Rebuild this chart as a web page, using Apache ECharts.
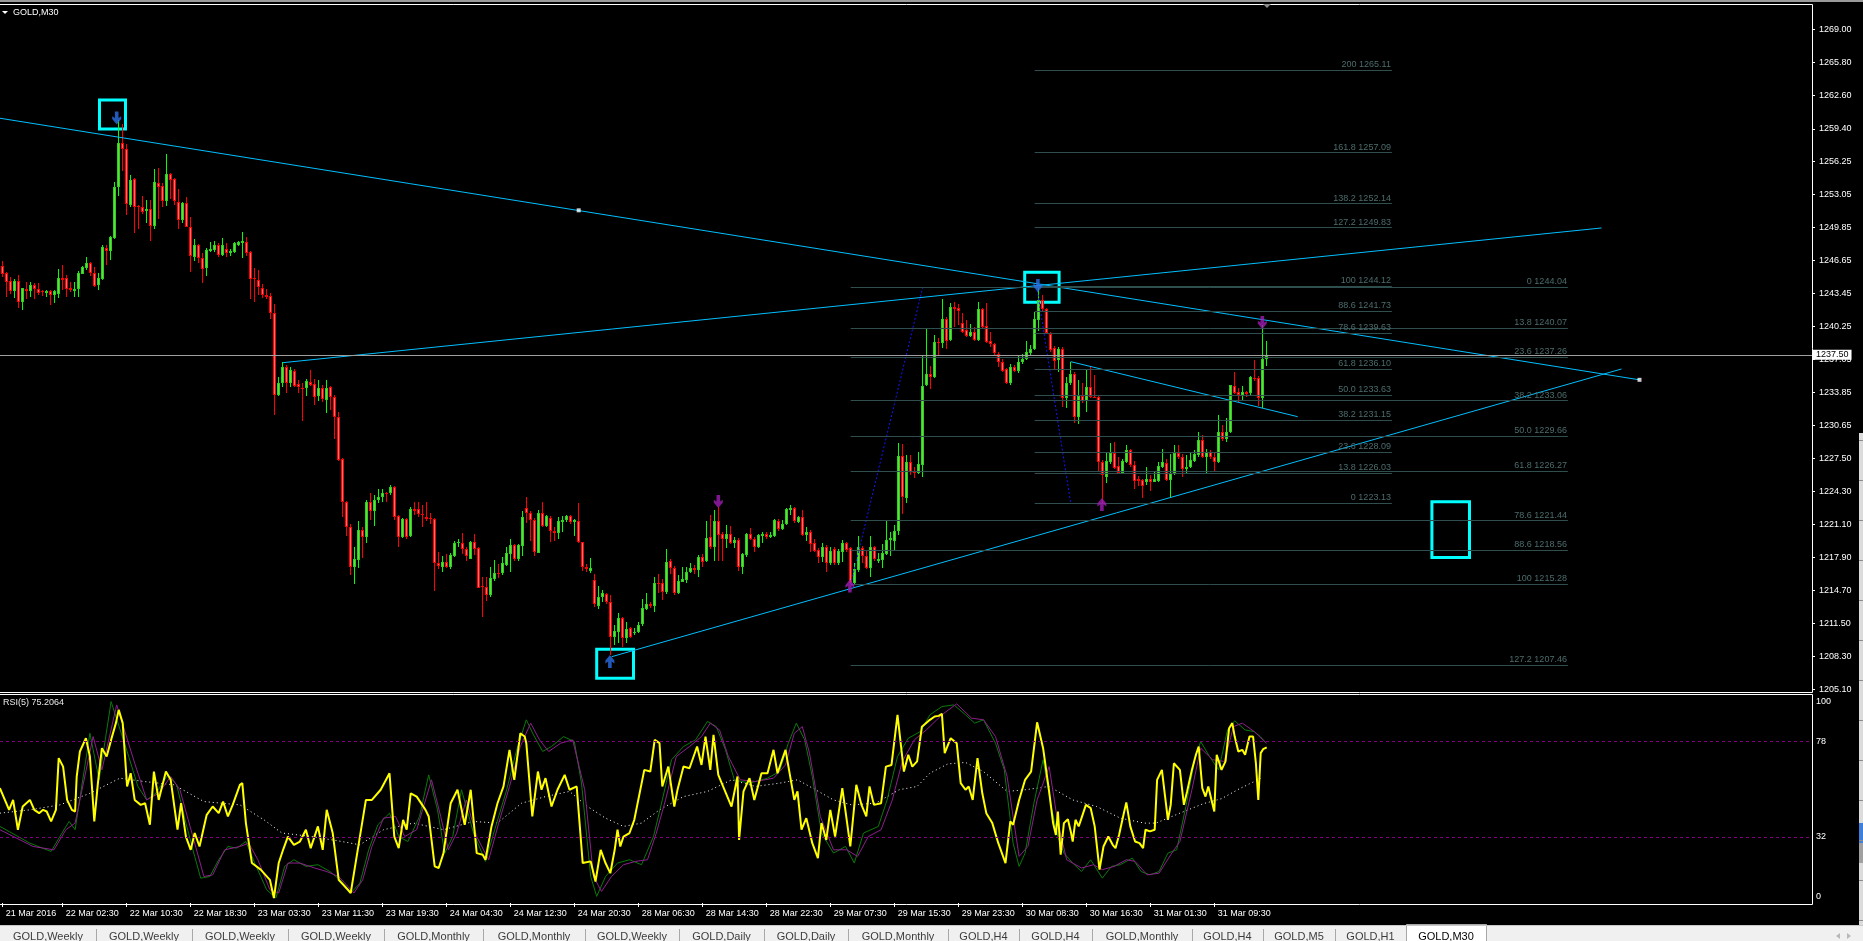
<!DOCTYPE html>
<html><head><meta charset="utf-8">
<style>html,body{margin:0;padding:0;background:#000;overflow:hidden}#chart{width:1863px;height:941px}</style>
<script src="https://cdn.jsdelivr.net/npm/echarts@6.0.0/dist/echarts.min.js"></script>
</head><body><div id="chart"></div>
<script>
// ---------------- DATA ----------------
const symbolLabel = 'GOLD,M30';
const rsiLabel = 'RSI(5) 75.2064';
const currentPrice = 1237.50;

const opens = [
1246.11,1245.40,1244.65,1243.72,1244.68,1242.59,1243.84,1243.72,1244.23,1243.84,
1243.68,1243.52,1243.65,1243.33,1243.42,1244.91,1244.91,1243.94,1243.72,1243.84,
1245.36,1245.94,1246.36,1245.40,1244.30,1244.81,1247.85,1247.59,1248.85,1253.73,
1258.06,1257.41,1252.02,1254.54,1251.89,1251.79,1251.47,1251.63,1250.01,1254.12,
1253.86,1252.44,1254.99,1254.50,1252.34,1250.53,1252.18,1249.85,1246.94,1248.11,
1246.85,1245.88,1247.59,1247.66,1248.14,1247.20,1247.72,1247.40,1247.49,1248.14,
1248.30,1248.46,1247.43,1244.91,1244.75,1244.01,1243.30,1243.17,1241.52,1233.57,
1234.74,1236.35,1234.74,1235.93,1234.67,1234.32,1234.32,1234.83,1234.67,1233.51,
1234.32,1233.12,1234.35,1233.41,1231.51,1227.37,1223.20,1220.78,1216.91,1217.62,
1220.52,1219.81,1223.20,1222.40,1223.43,1223.69,1224.08,1224.08,1224.72,1221.88,
1219.81,1221.59,1219.98,1222.53,1222.53,1222.11,1221.79,1221.72,1221.56,1217.30,
1216.98,1217.43,1216.98,1218.04,1219.24,1219.30,1218.69,1217.75,1219.33,1218.79,
1215.10,1214.97,1214.26,1215.75,1216.40,1216.33,1217.14,1218.20,1219.08,1217.69,
1218.98,1222.63,1222.14,1221.50,1218.30,1222.14,1220.92,1221.72,1220.46,1220.21,
1221.34,1221.50,1221.89,1221.34,1221.40,1219.33,1216.98,1216.59,1215.68,1213.16,
1214.00,1214.30,1213.52,1210.19,1210.68,1211.97,1210.03,1211.00,1210.52,1210.68,
1211.42,1212.84,1213.33,1213.20,1215.43,1215.36,1214.49,1217.53,1216.81,1214.39,
1215.52,1215.68,1216.49,1216.88,1216.65,1217.95,1217.53,1219.88,1218.85,1221.40,
1220.14,1219.66,1220.14,1219.24,1219.56,1216.98,1218.11,1220.14,1219.66,1218.91,
1219.95,1220.14,1219.88,1219.95,1221.40,1220.63,1221.11,1222.47,1222.63,1221.34,
1221.76,1220.05,1220.37,1219.24,1218.59,1217.95,1218.85,1217.30,1218.69,1217.30,
1218.43,1219.30,1218.75,1215.36,1216.65,1218.75,1218.04,1216.88,1218.85,1217.55,
1217.62,1218.20,1219.56,1219.49,1220.46,1227.70,1223.59,1227.08,1226.24,1226.02,
1226.82,1234.58,1235.61,1235.38,1238.77,1238.68,1241.00,1238.94,1242.10,1242.00,
1240.55,1239.90,1239.36,1239.68,1238.94,1241.91,1240.29,1238.87,1238.55,1237.58,
1236.84,1236.09,1234.74,1236.29,1235.97,1236.77,1237.06,1237.71,1238.10,1240.87,
1242.81,1241.91,1239.52,1238.13,1237.00,1238.07,1233.28,1234.74,1235.61,1231.51,
1233.54,1233.06,1234.35,1233.45,1233.45,1227.15,1225.69,1227.15,1227.95,1226.73,
1226.02,1227.15,1228.28,1226.82,1225.47,1225.37,1225.21,1225.47,1225.21,1225.27,
1226.66,1227.05,1225.37,1225.95,1228.02,1227.63,1226.44,1226.60,1227.24,1227.79,
1229.25,1227.57,1228.05,1227.63,1227.15,1230.05,1229.31,1229.99,1234.51,1233.93,
1233.61,1233.93,1233.77,1235.29,1235.22,1233.35,1237.06];
const highs = [
1246.56,1245.56,1245.07,1244.85,1245.23,1243.94,1244.56,1244.56,1244.49,1244.43,
1243.78,1243.78,1243.78,1243.78,1245.81,1246.20,1245.20,1244.52,1244.52,1245.62,
1246.14,1246.98,1246.49,1245.98,1245.40,1248.11,1248.11,1249.01,1254.21,1260.25,
1259.83,1257.90,1254.89,1254.66,1252.02,1252.86,1252.50,1252.50,1255.51,1255.57,
1254.12,1256.96,1255.15,1254.66,1253.53,1252.34,1252.76,1250.82,1248.72,1248.21,
1247.33,1247.88,1248.46,1248.56,1248.30,1248.85,1248.37,1247.72,1248.46,1248.56,
1249.40,1248.95,1247.56,1245.88,1245.72,1244.33,1243.84,1243.46,1242.42,1235.38,
1236.80,1236.48,1236.35,1236.09,1235.06,1234.74,1235.12,1236.03,1235.12,1235.03,
1234.57,1235.06,1234.48,1233.60,1231.99,1227.47,1223.33,1221.16,1218.91,1221.36,
1220.85,1223.43,1224.08,1223.92,1224.50,1224.50,1224.24,1224.88,1224.82,1221.98,
1221.72,1221.72,1222.79,1223.27,1223.27,1222.95,1223.24,1222.14,1221.66,1218.40,
1217.98,1218.17,1218.27,1219.46,1219.66,1220.21,1218.85,1219.46,1220.14,1218.88,
1215.94,1216.01,1216.98,1217.62,1217.24,1217.95,1218.85,1219.66,1219.17,1219.17,
1222.40,1223.73,1222.40,1221.69,1222.47,1223.24,1222.01,1221.89,1220.85,1221.82,
1221.89,1221.95,1221.98,1221.56,1223.15,1219.40,1217.24,1217.78,1216.27,1215.10,
1214.72,1214.46,1214.23,1211.32,1212.45,1212.07,1211.65,1211.16,1211.00,1211.58,
1213.81,1214.39,1213.58,1216.01,1216.23,1215.78,1218.66,1217.72,1217.07,1216.17,
1216.91,1216.98,1217.30,1217.14,1218.11,1218.17,1221.40,1221.98,1222.47,1222.79,
1220.37,1221.01,1220.92,1219.88,1219.72,1218.27,1220.27,1220.69,1219.82,1220.14,
1220.37,1220.30,1220.37,1221.56,1221.56,1221.50,1222.69,1222.95,1222.79,1221.89,
1222.47,1220.85,1220.53,1219.63,1218.75,1219.24,1219.08,1218.85,1218.91,1218.66,
1219.56,1219.40,1218.85,1217.30,1219.95,1218.97,1218.59,1219.94,1218.97,1218.33,
1219.17,1221.49,1220.30,1221.01,1228.92,1228.86,1227.79,1227.76,1226.66,1228.12,
1237.39,1240.00,1236.42,1239.42,1239.10,1242.88,1241.20,1242.49,1242.62,1242.42,
1241.58,1240.87,1240.45,1240.23,1242.65,1242.07,1242.49,1239.74,1238.68,1237.81,
1237.06,1236.19,1236.61,1236.51,1237.42,1237.55,1238.87,1238.45,1241.68,1244.12,
1243.30,1242.00,1239.74,1238.36,1238.23,1238.29,1235.32,1236.84,1235.87,1235.06,
1234.74,1236.03,1236.35,1235.54,1233.61,1227.31,1227.95,1228.99,1229.02,1227.57,
1227.37,1228.76,1228.37,1227.24,1225.76,1225.44,1226.60,1225.85,1226.24,1227.15,
1228.37,1227.41,1227.86,1228.76,1228.76,1227.89,1227.79,1228.12,1228.28,1229.99,
1229.73,1228.37,1228.28,1227.95,1231.67,1230.70,1231.35,1234.58,1235.87,1234.25,
1234.51,1234.03,1235.45,1237.00,1235.48,1240.39,1238.84];
const lows = [
1245.07,1243.07,1243.39,1243.04,1242.07,1241.87,1242.88,1243.13,1242.94,1243.30,
1243.20,1243.13,1242.29,1242.55,1243.04,1243.78,1243.13,1243.62,1243.10,1243.13,
1245.30,1245.72,1245.10,1244.04,1243.78,1244.75,1246.20,1246.72,1248.72,1252.92,
1255.34,1251.05,1251.86,1249.34,1249.66,1251.18,1250.24,1248.56,1249.66,1250.66,
1251.86,1251.95,1252.60,1252.02,1249.66,1250.24,1249.85,1245.56,1246.62,1246.36,
1244.49,1245.17,1247.49,1247.49,1247.01,1247.07,1247.01,1247.07,1247.40,1248.04,
1246.91,1247.07,1242.94,1242.65,1243.30,1242.97,1242.91,1240.97,1231.67,1233.51,
1234.41,1233.83,1234.35,1234.41,1233.83,1231.09,1233.51,1234.51,1232.64,1233.06,
1232.96,1231.89,1232.15,1229.37,1227.21,1221.82,1219.94,1216.16,1215.26,1216.81,
1217.78,1219.23,1221.49,1220.94,1223.11,1223.27,1223.27,1223.92,1221.49,1218.91,
1219.72,1219.62,1219.88,1221.98,1221.82,1220.85,1221.43,1221.08,1214.65,1216.75,
1216.43,1216.81,1216.75,1217.95,1218.85,1218.17,1217.57,1217.72,1218.11,1214.88,
1212.10,1213.68,1214.07,1215.62,1215.85,1216.17,1217.04,1216.49,1217.56,1217.53,
1218.01,1221.24,1219.46,1218.01,1218.27,1220.79,1220.85,1219.40,1219.50,1219.66,
1220.37,1221.34,1221.11,1219.95,1219.24,1216.59,1216.49,1216.33,1213.10,1212.87,
1213.58,1213.33,1208.40,1209.39,1209.55,1209.16,1209.55,1210.03,1210.36,1210.52,
1211.23,1212.78,1212.94,1212.62,1214.39,1213.75,1214.30,1216.27,1214.23,1214.33,
1215.46,1215.43,1216.33,1216.27,1216.01,1216.91,1217.46,1218.66,1217.53,1217.56,
1217.56,1218.75,1219.17,1218.75,1216.59,1216.27,1217.95,1219.56,1218.43,1218.75,
1219.30,1219.66,1219.72,1219.88,1220.46,1220.53,1221.01,1221.98,1221.17,1221.17,
1219.95,1219.50,1218.43,1218.43,1217.30,1217.46,1216.49,1217.14,1217.14,1217.14,
1217.46,1218.43,1215.28,1215.28,1216.49,1217.30,1216.75,1216.00,1217.52,1217.30,
1216.88,1218.10,1218.04,1218.59,1220.04,1222.08,1223.11,1225.85,1225.53,1225.95,
1225.69,1234.48,1234.16,1235.22,1237.39,1238.19,1238.07,1238.87,1240.23,1240.39,
1239.65,1239.26,1239.20,1238.84,1238.84,1240.07,1238.68,1238.29,1237.42,1236.35,
1235.87,1234.64,1234.58,1235.87,1235.71,1236.61,1237.00,1237.48,1237.97,1239.81,
1241.68,1239.58,1237.81,1236.03,1235.87,1232.48,1232.32,1234.58,1230.93,1230.80,
1232.86,1231.99,1233.28,1233.28,1226.18,1223.13,1225.11,1226.92,1226.44,1225.95,
1225.95,1226.98,1226.66,1224.50,1224.79,1223.66,1224.89,1224.30,1225.14,1225.17,
1226.50,1225.27,1223.66,1225.85,1227.44,1225.63,1225.92,1226.50,1227.15,1227.63,
1227.47,1226.08,1227.41,1226.24,1226.98,1229.15,1229.02,1229.89,1233.70,1232.90,
1233.12,1233.45,1233.61,1234.97,1232.54,1232.32,1236.42];
const closes = [
1245.30,1244.59,1243.72,1244.65,1242.59,1243.94,1243.72,1244.23,1243.84,1243.52,
1243.59,1243.65,1243.33,1243.65,1244.91,1244.78,1243.88,1243.78,1243.88,1245.43,
1246.01,1246.36,1245.43,1244.17,1244.91,1247.95,1247.59,1248.88,1253.73,1258.02,
1257.41,1252.15,1254.44,1251.82,1251.79,1251.37,1251.63,1250.01,1254.21,1253.79,
1252.44,1255.02,1254.41,1252.40,1250.53,1252.18,1249.92,1247.07,1248.11,1246.85,
1245.78,1247.62,1247.72,1248.14,1247.17,1248.14,1247.33,1247.56,1248.37,1248.46,
1248.53,1247.40,1244.85,1244.81,1244.10,1243.30,1243.13,1241.55,1233.57,1234.74,
1236.35,1234.80,1236.03,1234.51,1234.35,1234.22,1234.96,1234.61,1233.44,1234.32,
1233.19,1234.32,1233.44,1231.51,1227.31,1223.27,1220.78,1216.97,1217.72,1220.52,
1219.88,1223.24,1222.40,1223.43,1223.75,1224.08,1223.98,1224.72,1221.75,1219.81,
1221.59,1219.81,1222.56,1222.40,1222.07,1221.95,1221.63,1221.56,1217.30,1217.04,
1217.43,1216.98,1218.07,1219.27,1219.40,1218.66,1217.98,1219.37,1218.66,1214.94,
1215.04,1214.26,1215.88,1216.40,1216.33,1217.36,1218.27,1219.08,1217.69,1219.08,
1221.82,1222.14,1221.50,1218.43,1222.21,1220.92,1221.89,1220.46,1220.21,1221.40,
1221.50,1221.89,1221.27,1221.50,1219.33,1216.98,1216.72,1216.88,1213.36,1214.07,
1214.46,1213.58,1210.19,1210.74,1211.97,1210.03,1210.90,1210.19,1210.65,1211.32,
1212.94,1213.36,1213.20,1215.43,1215.30,1214.55,1217.40,1216.81,1214.39,1215.59,
1215.78,1216.49,1216.81,1216.65,1217.95,1217.46,1219.72,1218.85,1221.40,1220.05,
1219.66,1220.14,1219.30,1219.56,1216.98,1218.20,1220.14,1219.66,1218.91,1220.05,
1220.14,1219.82,1220.01,1221.50,1220.63,1221.11,1222.56,1222.63,1221.43,1221.76,
1220.05,1220.37,1219.17,1218.53,1217.95,1218.85,1217.30,1218.53,1217.30,1218.53,
1219.30,1218.59,1215.36,1216.75,1218.85,1218.04,1216.88,1218.85,1217.68,1217.68,
1218.27,1219.56,1219.72,1220.46,1227.70,1223.69,1227.08,1226.18,1226.02,1226.89,
1234.48,1235.61,1235.38,1238.71,1238.68,1241.00,1238.87,1242.10,1241.91,1241.78,
1239.74,1239.36,1239.68,1238.94,1241.91,1240.23,1238.77,1238.55,1237.65,1236.84,
1235.97,1234.74,1236.29,1235.97,1236.77,1237.13,1237.74,1238.10,1240.94,1242.81,
1241.91,1239.65,1237.97,1236.93,1238.07,1233.35,1234.80,1235.61,1231.51,1233.54,
1233.03,1234.35,1233.45,1233.35,1227.15,1225.85,1227.24,1227.95,1226.57,1226.02,
1227.21,1228.28,1226.82,1225.31,1225.27,1224.79,1225.47,1225.21,1225.47,1226.73,
1227.15,1225.37,1226.02,1228.02,1227.57,1226.44,1226.66,1227.31,1227.89,1229.25,
1227.57,1228.05,1227.57,1227.15,1230.05,1229.34,1230.05,1234.58,1233.83,1233.61,
1233.87,1233.70,1235.32,1235.13,1233.28,1237.06,1237.50];

const priceTicks = [1205.10,1208.30,1211.50,1214.70,1217.90,1221.10,1224.30,1227.50,1230.65,1233.85,1237.05,1240.25,1243.45,1246.65,1249.85,1253.05,1256.25,1259.40,1262.60,1265.80,1269.00];
const timeLabels = ['21 Mar 2016','22 Mar 02:30','22 Mar 10:30','22 Mar 18:30','23 Mar 03:30','23 Mar 11:30','23 Mar 19:30','24 Mar 04:30','24 Mar 12:30','24 Mar 20:30','28 Mar 06:30','28 Mar 14:30','28 Mar 22:30','29 Mar 07:30','29 Mar 15:30','29 Mar 23:30','30 Mar 08:30','30 Mar 16:30','31 Mar 01:30','31 Mar 09:30'];
const timeLabelBars = [0,15,31,47,63,79,95,111,127,143,159,175,191,207,223,239,255,271,287,303];
const rsiTicks = [0,32,78,100];
const rsiLevels = [78,32];

// Fibonacci retracements: [level, price]
const fibALevels = ['0','13.8','23.6','38.2','50.0','61.8','78.6','88.6','100','127.2','138.2','161.8','200'];
const fibAPrices = [1223.13,1226.03,1228.09,1231.15,1233.63,1236.10,1239.63,1241.73,1244.12,1249.83,1252.14,1257.09,1265.11];
const fibASpan = [258, 347.3];
const fibAAnchor = [[258.5,1244.12],[267,1223.13]];
const fibBLevels = ['0','13.8','23.6','38.2','50.0','61.8','78.6','88.6','100','127.2'];
const fibBPrices = [1244.04,1240.07,1237.26,1233.06,1229.66,1226.27,1221.44,1218.56,1215.28,1207.46];
const fibBSpan = [212, 391.3];
const fibBAnchor = [[212,1215.28],[230,1244.04]];

// trend lines: [bar, price] end points
const trendResistance = [[-0.675,1260.42],[409.2,1235.08]];
const trendResistanceHandles = [[144,1251.50],[409.2,1235.08]];
const trendRising = [[70,1236.74],[399.7,1249.79]];
const trendSupport = [[152.25,1208.26],[404.7,1236.13]];
const trendShort = [[267,1236.84],[323.75,1231.51]];

// cyan rectangles: [[bar, price],[bar, price]]
const boxes = [
  [[24.2,1262.19],[30.7,1259.38]],
  [[255.5,1245.50],[264.1,1242.59]],
  [[148.5,1208.97],[157.7,1206.16]],
  [[357.3,1223.27],[366.7,1217.88]]
];
// arrow signals [bar, price]
const blueDown = [[28.5,1260.44],[258.8,1244.22]];
const blueUp = [[151.8,1207.79]];
const purpleDown = [[178.9,1223.29],[314.9,1240.63]];
const purpleUp = [[211.8,1215.11],[274.8,1223.00]];

// RSI panel [bar, value]
const rsiMain = [[-0.7,55.5],[1.6,45.0],[2.6,49.8],[3.8,35.4],[5.0,46.6],[6.8,49.8],[7.9,45.0],[9.1,43.4],[10.1,45.0],[11.0,44.2],[12.1,39.4],[13.3,45.0],[14.0,70.0],[15.1,65.9],[16.1,49.8],[17.3,45.0],[18.1,44.2],[18.5,61.1],[19.3,73.2],[20.8,79.6],[21.8,70.8],[22.9,39.4],[23.8,57.9],[24.8,74.8],[26.0,70.8],[27.1,78.8],[28.3,86.9],[29.0,93.3],[30.0,86.9],[31.1,56.3],[32.0,62.7],[33.0,49.8],[34.5,47.4],[35.6,48.2],[36.8,37.8],[37.8,63.5],[39.0,49.8],[40.8,63.5],[42.0,59.5],[43.7,35.4],[44.6,48.2],[45.8,32.1],[47.0,25.7],[48.0,33.8],[49.2,27.3],[51.0,42.6],[52.5,46.6],[54.0,43.4],[55.1,49.0],[56.3,41.8],[57.5,47.4],[59.3,57.1],[59.9,57.9],[60.8,38.6],[62.3,19.3],[64.5,16.1],[66.8,11.2],[67.8,2.4],[69.0,19.3],[70.1,25.7],[71.3,32.1],[72.8,28.1],[74.3,29.7],[75.8,35.4],[77.0,26.5],[78.8,37.0],[80.0,25.7],[81.0,45.0],[82.5,33.8],[84.0,11.2],[86.3,6.4],[87.0,4.8],[89.3,32.1],[90.8,49.8],[92.3,49.8],[94.5,54.7],[96.7,62.7],[97.9,32.1],[99.0,26.5],[100.1,40.2],[101.0,35.4],[102.0,53.0],[103.5,51.4],[105.7,45.0],[106.5,41.8],[108.0,17.7],[109.0,16.9],[110.2,24.1],[112.0,48.2],[113.7,54.7],[115.5,37.8],[117.0,54.7],[118.5,24.1],[120.0,23.3],[120.7,20.9],[122.2,37.0],[123.7,48.2],[125.2,56.3],[126.7,74.0],[127.9,59.5],[129.4,82.0],[130.5,80.4],[130.9,77.2],[132.4,41.8],[133.8,63.5],[134.7,54.7],[135.7,60.3],[137.2,46.6],[138.7,54.7],[140.5,61.9],[141.7,54.7],[143.5,56.3],[145.0,19.3],[147.0,20.1],[148.2,10.4],[149.5,25.7],[150.7,19.3],[151.9,14.4],[153.0,25.7],[153.7,35.4],[154.4,27.3],[155.2,32.1],[156.7,33.8],[157.9,40.2],[160.4,64.3],[161.9,63.5],[163.0,78.8],[164.2,77.2],[164.9,56.3],[166.4,65.9],[167.9,46.6],[168.7,54.7],[170.2,65.9],[171.7,65.1],[173.6,75.6],[174.7,66.7],[175.7,80.4],[176.9,64.3],[177.7,81.2],[178.9,61.9],[182.2,46.6],[183.7,61.1],[184.1,30.5],[185.2,53.9],[186.7,60.3],[187.9,49.8],[189.7,62.7],[191.2,62.7],[192.7,74.0],[193.7,62.7],[195.7,74.0],[197.9,49.8],[198.7,53.9],[199.7,35.4],[200.9,41.0],[202.4,28.9],[203.8,21.7],[204.7,38.6],[205.9,30.5],[206.9,45.0],[208.1,32.1],[209.9,55.5],[211.0,40.2],[211.9,27.3],[213.4,57.1],[214.7,47.4],[215.9,41.8],[216.7,56.3],[217.8,47.4],[219.6,48.2],[220.8,65.9],[222.2,66.7],[223.7,90.9],[225.3,63.5],[226.4,71.6],[227.4,65.9],[228.6,68.4],[229.8,85.2],[231.8,88.5],[233.0,90.1],[234.0,90.4],[234.8,91.4],[235.5,72.4],[237.0,79.6],[238.5,77.2],[239.5,57.9],[240.7,54.7],[241.5,56.3],[242.5,49.8],[243.7,70.0],[244.9,53.0],[245.9,43.4],[247.4,38.6],[248.9,28.9],[250.7,19.3],[251.9,39.4],[252.6,37.8],[254.1,49.8],[255.6,59.5],[257.1,63.5],[258.6,87.3],[260.1,74.8],[261.6,53.9],[262.6,38.6],[263.3,32.9],[263.8,44.2],[264.5,23.3],[265.3,38.6],[266.3,40.5],[267.1,33.8],[267.5,29.7],[268.2,40.2],[269.0,37.0],[269.7,41.0],[270.8,47.4],[272.0,45.8],[273.0,37.0],[274.2,16.1],[275.2,27.3],[276.4,32.1],[277.5,28.1],[278.2,26.5],[279.1,33.0],[280.1,41.8],[280.9,48.6],[281.9,37.0],[283.1,29.7],[284.2,28.9],[285.1,26.5],[285.7,35.4],[286.8,34.6],[288.0,35.4],[288.6,59.5],[289.8,64.3],[290.6,51.4],[291.3,40.2],[292.0,47.4],[292.8,67.5],[294.3,64.3],[295.3,47.4],[296.1,53.9],[297.3,64.3],[298.3,71.6],[299.0,75.6],[299.9,55.5],[300.7,51.4],[301.4,56.3],[302.2,49.8],[302.9,44.2],[303.5,71.6],[304.7,64.3],[305.7,68.4],[306.6,84.4],[307.4,86.9],[308.0,80.4],[308.9,73.2],[309.9,74.0],[310.6,71.6],[311.7,80.4],[312.6,80.4],[313.3,67.5],[313.9,49.8],[314.5,72.4],[315.1,74.3],[316.0,75.2]];
const rsiGreen = [[-0.7,37.0],[6.8,28.9],[12.1,24.9],[14.3,32.1],[16.6,39.4],[18.1,35.4],[21.8,82.0],[24.1,59.5],[27.1,97.3],[31.5,70.8],[33.8,56.3],[36.0,49.8],[38.3,53.0],[41.3,61.9],[43.5,57.1],[45.8,38.6],[48.0,22.5],[49.5,12.0],[51.8,12.8],[54.0,20.9],[56.3,27.3],[58.5,26.5],[60.8,29.7],[63.0,19.3],[66.0,6.4],[68.3,2.4],[70.5,17.7],[72.8,20.9],[75.8,17.7],[78.8,18.5],[81.8,15.2],[84.8,10.4],[87.0,4.8],[89.3,9.6],[91.5,25.7],[93.8,37.8],[96.7,43.4],[99.0,32.1],[101.3,29.7],[104.2,41.8],[106.5,61.9],[108.7,45.0],[110.5,24.1],[112.5,32.1],[114.7,54.7],[117.7,33.8],[120.7,20.1],[123.0,35.4],[126.0,54.7],[128.5,74.0],[130.9,88.5],[132.7,81.2],[135.0,73.2],[137.2,75.6],[140.2,80.4],[142.9,78.0],[144.7,57.9],[147.0,12.8],[148.5,3.2],[150.7,12.8],[153.7,19.3],[156.7,20.9],[159.7,18.5],[162.7,32.1],[164.9,49.8],[167.2,69.2],[170.2,75.6],[173.2,78.8],[176.2,87.7],[178.4,85.2],[180.7,74.0],[182.9,59.5],[186.7,57.9],[191.2,60.3],[194.2,63.5],[196.4,77.2],[198.4,86.9],[200.5,78.8],[202.4,61.1],[204.7,33.8],[207.7,24.1],[210.7,27.3],[212.9,19.3],[215.2,33.8],[218.9,37.0],[221.1,49.8],[223.7,70.8],[226.4,79.6],[229.4,82.8],[231.8,90.9],[234.8,94.9],[237.8,95.7],[240.7,90.9],[243.0,86.9],[245.2,88.5],[248.2,77.2],[250.4,64.3],[252.6,28.9],[254.1,17.7],[255.6,24.1],[257.8,48.2],[260.1,69.2],[262.3,45.0],[263.8,32.1],[265.3,24.1],[267.5,19.3],[269.7,15.2],[272.0,20.9],[274.9,12.0],[277.2,17.7],[279.4,18.5],[282.4,21.7],[284.6,15.2],[286.8,13.6],[289.1,15.2],[291.3,24.1],[293.5,25.7],[295.8,46.6],[298.0,69.2],[299.5,78.0],[301.7,70.8],[304.0,64.3],[306.2,83.6],[308.0,88.0],[310.6,83.6],[312.9,82.8],[314.4,80.4],[315.9,77.2]];
const rsiPurple = [[-0.7,35.4],[7.6,27.3],[12.8,25.7],[15.8,35.4],[18.1,38.6],[22.6,80.4],[24.8,64.3],[28.5,95.7],[33.0,67.5],[36.0,49.8],[39.0,53.0],[42.0,61.1],[44.3,54.7],[47.3,33.8],[50.3,12.8],[52.5,13.6],[55.5,25.7],[59.3,27.3],[61.5,28.9],[63.8,20.9],[66.8,6.4],[69.0,4.8],[71.3,19.3],[74.3,19.3],[78.0,16.9],[81.0,15.2],[84.0,12.8],[87.8,4.8],[90.0,11.2],[92.3,27.3],[95.2,41.0],[98.2,41.8],[100.5,32.1],[103.5,35.4],[107.2,59.5],[109.5,41.8],[111.4,25.7],[113.5,33.8],[115.9,49.8],[118.5,32.1],[121.5,20.9],[124.0,38.6],[126.7,56.3],[129.4,75.6],[132.0,86.9],[134.2,78.8],[136.5,73.2],[139.5,77.2],[142.5,78.8],[145.5,54.7],[147.7,12.8],[149.7,5.6],[152.2,12.8],[155.2,18.5],[158.2,20.1],[161.2,20.9],[163.4,33.8],[165.7,49.8],[168.4,70.8],[171.7,75.6],[174.7,80.4],[176.9,86.9],[179.2,83.6],[181.4,70.8],[184.4,59.5],[188.2,58.7],[192.7,60.3],[195.7,66.7],[197.9,82.0],[199.9,85.2],[201.7,72.4],[204.4,41.8],[207.7,25.7],[211.0,25.7],[213.7,22.5],[216.4,32.1],[219.6,35.4],[222.4,49.8],[224.9,68.4],[227.9,78.8],[230.9,83.6],[234.8,90.9],[238.5,96.2],[242.2,89.3],[245.2,88.5],[248.2,80.4],[251.1,61.1],[254.1,22.5],[256.3,27.3],[258.6,49.8],[261.6,65.9],[263.8,38.6],[266.0,20.9],[269.7,16.9],[272.7,18.5],[274.9,16.1],[277.9,17.7],[280.9,20.9],[283.1,20.1],[286.1,13.6],[289.1,14.4],[292.0,23.3],[294.3,29.7],[297.3,54.7],[299.5,74.8],[302.5,69.2],[305.4,68.4],[307.7,85.2],[309.9,86.9],[312.9,82.8],[315.9,77.2]];
const rsiSignal = [[-0.7,43.4],[6.8,45.0],[14.3,47.4],[21.8,53.0],[29.3,60.3],[35.3,58.7],[42.8,57.1],[50.3,49.0],[59.3,47.4],[65.3,40.2],[69.8,33.8],[77.3,32.1],[84.8,29.7],[89.3,28.1],[95.2,35.4],[102.7,38.6],[110.2,35.4],[117.7,39.4],[123.7,38.6],[129.7,48.2],[135.7,51.4],[141.7,53.9],[146.2,46.6],[150.7,41.0],[155.2,37.0],[159.7,38.6],[164.2,45.0],[170.2,51.4],[176.2,53.9],[182.2,59.5],[188.2,56.3],[194.2,57.9],[198.7,59.5],[203.2,54.7],[207.7,49.8],[212.2,47.4],[218.2,48.2],[224.1,54.7],[228.6,56.3],[231.8,62.7],[236.3,67.2],[240.7,67.9],[245.2,63.5],[251.1,53.9],[255.6,54.7],[261.6,56.3],[267.5,49.8],[273.5,46.6],[279.4,41.0],[285.4,38.6],[288.3,38.6],[294.3,43.4],[300.2,48.0],[304.7,50.4],[309.2,55.2],[315.1,60.8]];

const tabNames = ['GOLD,Weekly','GOLD,Weekly','GOLD,Weekly','GOLD,Weekly','GOLD,Monthly','GOLD,Monthly','GOLD,Weekly','GOLD,Daily','GOLD,Daily','GOLD,Monthly','GOLD,H4','GOLD,H4','GOLD,Monthly','GOLD,H4','GOLD,M5','GOLD,H1','GOLD,M30'];

// ---------------- LAYOUT / STYLE ----------------
const W = 1863, H = 941;
const PLOT_W = 1812;
const BAR_PX = 4;
const X_MIN = -0.675, X_MAX = X_MIN + PLOT_W / BAR_PX;
const Y_MIN = 1204.84, Y_MAX = 1271.39;
const FONT = 'Liberation Sans';
const tabEdges = [0,96,192,288,384,483,585,679,764,848,948,1019,1092,1192,1263,1335,1406,1486];

const candleData = opens.map((o, i) => [i, o, highs[i], lows[i], closes[i]]);

function renderCandle(params, api) {
  const i = api.value(0), o = api.value(1), h = api.value(2), l = api.value(3), c = api.value(4);
  const pO = api.coord([i, o]), pC = api.coord([i, c]), pH = api.coord([i, h]), pL = api.coord([i, l]);
  const x = Math.floor(pO[0]);
  const up = c >= o;
  const yT = Math.round(Math.min(pO[1], pC[1])), yB = Math.round(Math.max(pO[1], pC[1]));
  const bh = Math.max(1, yB - yT);
  const wT = Math.round(pH[1]), wB = Math.round(pL[1]);
  const ch = [
    {type:'rect', shape:{x:x, y:wT, width:1, height:Math.max(1, wB - wT)}, style:{fill: up ? '#00ff00' : '#ff0000'}},
    {type:'rect', shape:{x:x-1, y:yT, width:3, height:bh}, style:{fill: up ? '#2ed21e' : '#ff0000'}}
  ];
  if (bh > 2) ch.push({type:'rect', shape:{x:x, y:yT+1, width:1, height:bh-2}, style:{fill: up ? '#5fe040' : '#ff7070'}});
  return {type:'group', children: ch};
}

const downPath = 'path://M3,0L7,0L7,7L10,5L10,8L5,14L0,8L0,5L3,7Z';
const upPath = 'path://M3,14L7,14L7,7L10,9L10,6L5,0L0,6L0,9L3,7Z';

function fibLines(levels, prices, span) {
  return levels.map((lv, k) => [
    {name: lv + ' ' + prices[k].toFixed(2), coord: [span[0], prices[k]]},
    {coord: [span[1], prices[k]]}
  ]);
}

// chrome graphics
const g = [];
g.push({type:'rect', shape:{x:0, y:0, width:W, height:2}, style:{fill:'#9a9a9a'}, silent:true});
function hline(y, x1, x2, color) { g.push({type:'line', shape:{x1:x1, y1:y, x2:x2, y2:y}, style:{stroke:color, lineWidth:1}, z:100, silent:true}); }
function vline(x, y1, y2, color) { g.push({type:'line', shape:{x1:x, y1:y1, x2:x, y2:y2}, style:{stroke:color, lineWidth:1}, z:100, silent:true}); }
hline(4.5, 0, PLOT_W + 0.5, '#ffffff');
vline(PLOT_W + 0.5, 4.5, 692.5, '#ffffff');
hline(692.5, 0, PLOT_W + 0.5, '#ffffff');
hline(694.5, 0, PLOT_W + 0.5, '#ffffff');
vline(PLOT_W + 0.5, 694.5, 904.5, '#ffffff');
hline(904.5, 0, PLOT_W + 0.5, '#ffffff');
// header
g.push({type:'polygon', shape:{points:[[2,11],[8,11],[5,14]]}, style:{fill:'#ffffff'}, z:100, silent:true});
g.push({type:'text', x:13, y:12.5, style:{text:symbolLabel, fill:'#ffffff', font:'9px ' + FONT, textVerticalAlign:'middle'}, z:100, silent:true});
g.push({type:'polygon', shape:{points:[[1263,4],[1271,4],[1267,8]]}, style:{fill:'#8a8a8a'}, z:100, silent:true});
g.push({type:'text', x:3, y:703, style:{text:rsiLabel, fill:'#e8e8e8', font:'9px ' + FONT, textVerticalAlign:'middle'}, z:100, silent:true});
// tab strip
g.push({type:'rect', shape:{x:0, y:925, width:W, height:16}, style:{fill:'#f0f0f0'}, z:90, silent:true});
hline(925.5, 0, W, '#c8c8c8');
tabNames.forEach((nm, k) => {
  const x1 = tabEdges[k], x2 = tabEdges[k+1];
  const active = k === tabNames.length - 1;
  if (active) g.push({type:'rect', shape:{x:x1 + 0.5, y:924.5, width:x2 - x1, height:17}, style:{fill:'#ffffff', stroke:'#a8a8a8', lineWidth:1}, z:95, silent:true});
  else vline(x2 + 0.5, 929, 941, '#a8a8a8');
  g.push({type:'text', x:(x1 + x2) / 2, y:937, style:{text:nm, fill: active ? '#000000' : '#3c3c3c', font:'11px ' + FONT, textAlign:'center', textVerticalAlign:'middle'}, z:101, silent:true});
});
g.push({type:'polygon', shape:{points:[[1836,936],[1840,933],[1840,939]]}, style:{fill:'#b8b8b8'}, z:101, silent:true});
g.push({type:'polygon', shape:{points:[[1851,936],[1847,933],[1847,939]]}, style:{fill:'#b8b8b8'}, z:101, silent:true});
// right side strip
g.push({type:'rect', shape:{x:1859, y:433, width:4, height:492}, style:{fill:'#dcdcdc'}, z:90, silent:true});
for (let y = 440; y < 925; y += 40) hline(y + 0.5, 1859, 1863, '#8c8c8c');
g.push({type:'rect', shape:{x:1859, y:823, width:4, height:20}, style:{fill:'#3d7fd9'}, z:91, silent:true});
g.push({type:'rect', shape:{x:1859, y:843, width:4, height:20}, style:{fill:'#a0a0a0'}, z:91, silent:true});

const option = {
  backgroundColor: '#000000',
  animation: false,
  textStyle: {fontFamily: FONT},
  grid: [
    {left:0, top:5, width:PLOT_W, height:687},
    {left:0, top:696, width:PLOT_W, height:207}
  ],
  xAxis: [
    {type:'value', gridIndex:0, min:X_MIN, max:X_MAX, show:false, axisLine:{onZero:false}},
    {type:'value', gridIndex:1, min:X_MIN, max:X_MAX,
      axisLine:{show:false, onZero:false}, splitLine:{show:false},
      axisTick:{show:true, customValues: timeLabelBars, length:4, lineStyle:{color:'#ffffff'}},
      axisLabel:{show:true, customValues: timeLabelBars, color:'#ffffff', fontSize:9, fontFamily:FONT, align:'left', margin:6, padding:[0,0,0,3],
        formatter: v => { const k = timeLabelBars.indexOf(Math.round(v)); return k >= 0 ? timeLabels[k] : ''; }}}
  ],
  yAxis: [
    {type:'value', gridIndex:0, position:'right', min:Y_MIN, max:Y_MAX,
      axisLine:{show:false, onZero:false}, splitLine:{show:false},
      axisTick:{show:true, customValues: priceTicks, length:3, lineStyle:{color:'#ffffff'}},
      axisLabel:{show:true, customValues: priceTicks, color:'#ffffff', fontSize:9, fontFamily:FONT, margin:7, formatter: v => v.toFixed(2)}},
    {type:'value', gridIndex:1, position:'right', min:0, max:100,
      axisLine:{show:false, onZero:false}, splitLine:{show:false}, axisTick:{show:false},
      axisLabel:{show:true, customValues: rsiTicks, color:'#ffffff', fontSize:9, fontFamily:FONT, margin:4,
        formatter: v => v === 100 ? '{t|100}' : (v === 0 ? '{b|0}' : String(v)),
        rich:{t:{padding:[12,0,0,0], color:'#ffffff', fontSize:9, fontFamily:FONT}, b:{padding:[0,0,12,0], color:'#ffffff', fontSize:9, fontFamily:FONT}}}}
  ],
  series: [
    {type:'custom', name:'candles', xAxisIndex:0, yAxisIndex:0, data:candleData, renderItem:renderCandle,
      encode:{x:0, y:[1,2,3,4]}, clip:true, z:2, silent:true},
    {type:'line', name:'resistance', xAxisIndex:0, yAxisIndex:0, data:trendResistance, showSymbol:false, z:4, silent:true,
      lineStyle:{color:'#00bfff', width:1},
      markLine:{silent:true, symbol:['none','none'], animation:false,
        lineStyle:{color:'#2f4f4f', width:1, type:'solid'},
        label:{show:true, position:'insideEndTop', formatter:'{b}', color:'#4c6c6c', fontSize:9, fontFamily:FONT, distance:1},
        emphasis:{disabled:true},
        data: fibLines(fibALevels, fibAPrices, fibASpan).concat(fibLines(fibBLevels, fibBPrices, fibBSpan)).concat([
          {yAxis: currentPrice, name: currentPrice.toFixed(2), lineStyle:{color:'#a0a0a0', width:1, type:'solid'},
            label:{show:true, position:'end', formatter:'{b}', color:'#000000', backgroundColor:'#ffffff', padding:[1,3,0,3], fontSize:9, fontFamily:FONT, distance:1}}
        ])},
      markArea:{silent:true, animation:false, label:{show:false},
        itemStyle:{color:'rgba(0,0,0,0)', borderColor:'#00ffff', borderWidth:3},
        data: boxes.map(b => [{coord:b[0]}, {coord:b[1]}])}
    },
    {type:'line', name:'rising', xAxisIndex:0, yAxisIndex:0, data:trendRising, showSymbol:false, z:4, silent:true, lineStyle:{color:'#00bfff', width:1}},
    {type:'line', name:'support', xAxisIndex:0, yAxisIndex:0, data:trendSupport, showSymbol:false, z:4, silent:true, lineStyle:{color:'#00bfff', width:1}},
    {type:'line', name:'short', xAxisIndex:0, yAxisIndex:0, data:trendShort, showSymbol:false, z:4, silent:true, lineStyle:{color:'#00bfff', width:1}},
    {type:'line', name:'fibA', xAxisIndex:0, yAxisIndex:0, data:fibAAnchor, showSymbol:false, z:4, silent:true, lineStyle:{color:'#1414ff', width:1, type:[2,2]}},
    {type:'line', name:'fibB', xAxisIndex:0, yAxisIndex:0, data:fibBAnchor, showSymbol:false, z:4, silent:true, lineStyle:{color:'#1414ff', width:1, type:[2,2]}},
    {type:'scatter', name:'handles', xAxisIndex:0, yAxisIndex:0, data:trendResistanceHandles, symbol:'rect', symbolSize:4, itemStyle:{color:'#ffffff'}, z:5, silent:true},
    {type:'scatter', name:'blueDown', xAxisIndex:0, yAxisIndex:0, data:blueDown, symbol:downPath, symbolSize:[9,13], itemStyle:{color:'#2b6fe6'}, z:6, silent:true},
    {type:'scatter', name:'blueUp', xAxisIndex:0, yAxisIndex:0, data:blueUp, symbol:upPath, symbolSize:[9,13], itemStyle:{color:'#2b6fe6'}, z:6, silent:true},
    {type:'scatter', name:'purpleDown', xAxisIndex:0, yAxisIndex:0, data:purpleDown, symbol:downPath, symbolSize:[9,13], itemStyle:{color:'#a01cb4'}, z:6, silent:true},
    {type:'scatter', name:'purpleUp', xAxisIndex:0, yAxisIndex:0, data:purpleUp, symbol:upPath, symbolSize:[9,13], itemStyle:{color:'#a01cb4'}, z:6, silent:true},
    // RSI panel
    {type:'line', name:'signal', xAxisIndex:1, yAxisIndex:1, data:rsiSignal, showSymbol:false, z:2, silent:true,
      lineStyle:{color:'#ffffff', width:1, type:[1,3]},
      markLine:{silent:true, symbol:['none','none'], animation:false, label:{show:false}, emphasis:{disabled:true},
        lineStyle:{color:'#800080', width:1, type:[3,3]},
        data: rsiLevels.map(v => ({yAxis:v}))}},
    {type:'line', name:'green', xAxisIndex:1, yAxisIndex:1, data:rsiGreen, showSymbol:false, z:3, silent:true, lineStyle:{color:'#0a7a0a', width:1}},
    {type:'line', name:'purple', xAxisIndex:1, yAxisIndex:1, data:rsiPurple, showSymbol:false, z:3, silent:true, lineStyle:{color:'#8e1e8e', width:1}},
    {type:'line', name:'rsi', xAxisIndex:1, yAxisIndex:1, data:rsiMain, showSymbol:false, z:4, silent:true, lineStyle:{color:'#ffff00', width:2}}
  ],
  graphic: g
};
const chart = echarts.init(document.getElementById('chart'), null, {width:W, height:H, renderer:'canvas'});
chart.setOption(option);
</script>
</body></html>
